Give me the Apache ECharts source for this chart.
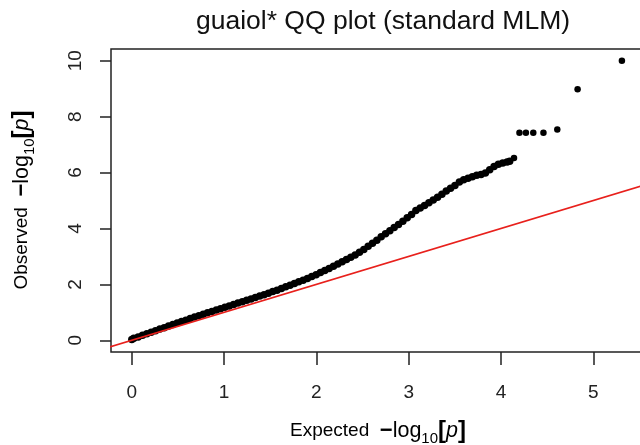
<!DOCTYPE html>
<html>
<head>
<meta charset="utf-8">
<script src="https://cdn.jsdelivr.net/npm/echarts@6/dist/echarts.min.js"></script>
<style>
html,body{margin:0;padding:0;background:#fff;}
#chart{width:640px;height:445px;}
</style>
</head>
<body>
<div id="chart"></div>
<script>
// ---- data ----
const titleText = 'guaiol* QQ plot (standard MLM)';
const xTickValues = [0, 1, 2, 3, 4, 5];
const yTickValues = [0, 2, 4, 6, 8, 10];

// expected -log10(p)
const expected = [
  0.00, 0.022, 0.069, 0.116, 0.163, 0.210, 0.257, 0.304, 0.351, 0.398,
  0.445, 0.492, 0.539, 0.586, 0.633, 0.680, 0.727, 0.774, 0.821, 0.868,
  0.916, 0.962, 1.009, 1.056, 1.103, 1.150, 1.198, 1.245, 1.292, 1.339,
  1.386, 1.433, 1.480, 1.527, 1.574, 1.621, 1.668, 1.715, 1.762, 1.809,
  1.856, 1.903, 1.950, 1.997, 2.044, 2.091, 2.138, 2.185, 2.232, 2.279,
  2.326, 2.373, 2.420, 2.467, 2.514, 2.561, 2.608, 2.655, 2.702, 2.749,
  2.796, 2.843, 2.890, 2.937, 2.984, 3.031, 3.078, 3.125, 3.172, 3.219,
  3.266, 3.313, 3.360, 3.407, 3.454, 3.501, 3.549, 3.596, 3.643, 3.690,
  3.737, 3.784, 3.831, 3.878, 3.925, 3.972, 4.019, 4.066, 4.094, 4.141,
  4.20, 4.27, 4.35, 4.46, 4.61, 4.83, 5.31
];
// observed -log10(p)
const observed = [
  0.03, 0.07, 0.12, 0.18, 0.23, 0.29, 0.34, 0.40, 0.45, 0.51,
  0.56, 0.62, 0.67, 0.72, 0.78, 0.83, 0.88, 0.93, 0.98, 1.03,
  1.08, 1.13, 1.18, 1.23, 1.28, 1.33, 1.38, 1.43, 1.48, 1.53,
  1.58, 1.63, 1.68, 1.74, 1.79, 1.85, 1.91, 1.97, 2.03, 2.09,
  2.15, 2.21, 2.28, 2.34, 2.42, 2.50, 2.57, 2.65, 2.73, 2.81,
  2.89, 2.97, 3.05, 3.15, 3.25, 3.36, 3.47, 3.58, 3.70, 3.81,
  3.92, 4.03, 4.14, 4.26, 4.38, 4.50, 4.64, 4.73, 4.82, 4.92,
  5.02, 5.12, 5.22, 5.34, 5.44, 5.54, 5.66, 5.74, 5.80, 5.85,
  5.90, 5.93, 5.98, 6.10, 6.22, 6.30, 6.34, 6.38, 6.40, 6.52,
  7.42, 7.42, 7.42, 7.42, 7.54, 8.98, 10.00
];

// red y = x reference line end points
const refLineX = [-0.3, 5.6];
const refLineY = [-0.3, 5.6];

// ---- chart ----
const chart = echarts.init(document.getElementById('chart'), null, {renderer: 'canvas'});
const pts = expected.map((x, i) => [x, observed[i]]);
const refPts = refLineX.map((x, i) => [x, refLineY[i]]);
const nIsolated = 8;
const axisColor = '#222';
const fontFam = '"Liberation Sans", Arial, sans-serif';

const titleRich = {
  n: {fontSize: 19, fontFamily: fontFam, color: '#222', lineHeight: 30, verticalAlign: 'middle'},
  m: {fontSize: 22, fontFamily: fontFam, color: '#222', fontWeight: 'bold', lineHeight: 30, verticalAlign: 'middle'},
  l: {fontSize: 21.5, fontFamily: fontFam, color: '#222', lineHeight: 30, verticalAlign: 'middle'},
  s: {fontSize: 15, fontFamily: fontFam, color: '#222', lineHeight: 15, verticalAlign: 'bottom'},
  b: {fontSize: 24, fontFamily: fontFam, color: '#222', fontWeight: 'bold', lineHeight: 30, verticalAlign: 'middle'},
  i: {fontSize: 21.5, fontFamily: fontFam, color: '#222', fontStyle: 'italic', lineHeight: 30, verticalAlign: 'middle'}
};
function axisTitle(word) {
  return '{n|' + word + '  }{m|\u2212}{l|log}{s|10}{b|[}{i|p}{b|]}';
}

chart.setOption({
  animation: false,
  backgroundColor: '#fff',
  grid: {
    left: 111, top: 49, right: -1, bottom: 93,
    show: true, borderColor: axisColor, borderWidth: 1.5,
    containLabel: false, outerBoundsMode: 'none'
  },
  xAxis: {
    type: 'value', min: -0.2254, max: 5.517,
    axisLine: {show: false, onZero: false},
    splitLine: {show: false},
    axisTick: {show: true, customValues: xTickValues, length: 13, lineStyle: {color: axisColor, width: 1.5}},
    axisLabel: {customValues: xTickValues, fontSize: 19, color: '#222', fontFamily: fontFam, margin: 31}
  },
  yAxis: {
    type: 'value', min: -0.42, max: 10.42,
    axisLine: {show: false, onZero: false},
    splitLine: {show: false},
    axisTick: {show: true, customValues: yTickValues, length: 11, lineStyle: {color: axisColor, width: 1.5}},
    axisLabel: {customValues: yTickValues, fontSize: 19, color: '#222', fontFamily: fontFam, rotate: 90, margin: 26}
  },
  series: [
    {
      type: 'scatter', data: pts, symbol: 'circle',
      symbolSize: function (v, p) { return p.dataIndex >= expected.length - nIsolated ? 6.5 : 7.5; },
      itemStyle: {color: '#000', opacity: 1}, silent: true, z: 2
    },
    {
      type: 'line', data: refPts, showSymbol: false, symbol: 'none',
      lineStyle: {color: '#e8201c', width: 1.6}, silent: true, z: 3, clip: true
    }
  ],
  graphic: [
    {
      type: 'text', x: 383, y: 22, silent: true,
      style: {text: titleText, fontSize: 26.5, fontFamily: fontFam, fill: '#111', align: 'center', verticalAlign: 'middle'}
    },
    {
      type: 'text', x: 378, y: 431, silent: true,
      style: {text: axisTitle('Expected'), rich: titleRich, align: 'center', verticalAlign: 'middle'}
    },
    {
      type: 'text', x: 22, y: 200, rotation: Math.PI / 2, silent: true,
      style: {text: axisTitle('Observed'), rich: titleRich, align: 'center', verticalAlign: 'middle'}
    }
  ]
});
</script>
</body>
</html>
